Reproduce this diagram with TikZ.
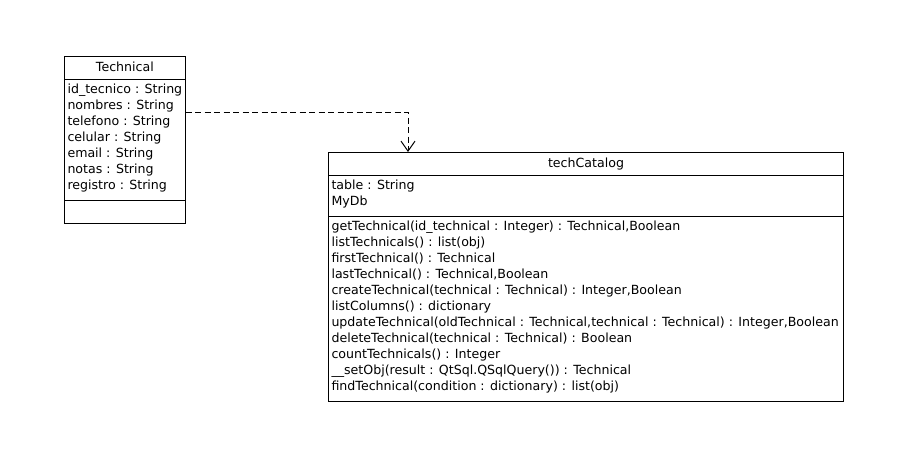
\documentclass[tikz,border=0pt]{standalone}
\usepackage{fontspec}
\setmainfont{DejaVu Sans}
\usetikzlibrary{arrows.meta, positioning, shapes.multipart}
\newcommand{\rowstrut}{\rule[-6pt]{0pt}{16pt}}
\newcommand{\titlestrut}{\rule[-3.5pt]{0pt}{13.5pt}}

\begin{document}
\begin{tikzpicture}[
  x=1pt, y=-1pt,
  font=\fontsize{12.6}{16}\selectfont,
  line width=1pt,
  umlclass/.style={draw, rectangle split, rectangle split parts=3,
    rectangle split part align={center,left,left}, align=left,
    anchor=north west, inner xsep=3pt, inner ysep=4pt,
    rectangle split empty part height=14pt},
  dep/.style={dash pattern=on 6pt off 3.5pt, -{Straight Barb[length=10pt, width=14pt]}}
]
\useasboundingbox (0,0) rectangle (907,472);

% CLASSES
\node[umlclass, minimum width=120pt] (tech) at (64,56)
{\titlestrut Technical
 \nodepart{two}
 \rowstrut id\_tecnico : String\\
 \rowstrut nombres : String\\
 \rowstrut telefono : String\\
 \rowstrut celular : String\\
 \rowstrut email : String\\
 \rowstrut notas : String\\
 \rowstrut registro : String
 \nodepart{three}};

\node[umlclass, minimum width=515pt] (cat) at (328,152)
{\titlestrut techCatalog
 \nodepart{two}
 \rowstrut table : String\\
 \rowstrut MyDb
 \nodepart{three}
 \rowstrut getTechnical(id\_technical : Integer) : Technical,Boolean\\
 \rowstrut listTechnicals() : list(obj)\\
 \rowstrut firstTechnical() : Technical\\
 \rowstrut lastTechnical() : Technical,Boolean\\
 \rowstrut createTechnical(technical : Technical) : Integer,Boolean\\
 \rowstrut listColumns() : dictionary\\
 \rowstrut updateTechnical(oldTechnical : Technical,technical : Technical) : Integer,Boolean\\
 \rowstrut deleteTechnical(technical : Technical) : Boolean\\
 \rowstrut countTechnicals() : Integer\\
 \rowstrut \_\_setObj(result : QtSql.QSqlQuery()) : Technical\\
 \rowstrut findTechnical(condition : dictionary) : list(obj)};

% DEPENDENCY
\draw[dep] ([yshift=-56pt]tech.north east) -| ([xshift=80pt]cat.north west);

\end{tikzpicture}
\end{document}
